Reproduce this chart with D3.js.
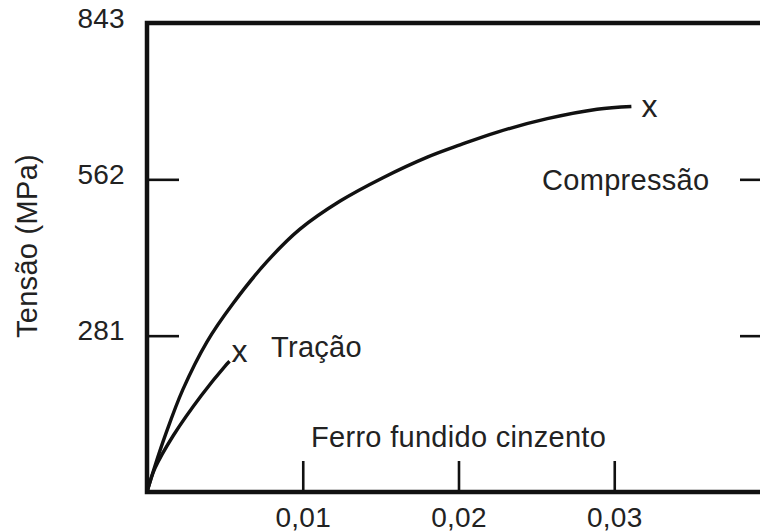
<!DOCTYPE html>
<html>
<head>
<meta charset="utf-8">
<script src="https://cdn.jsdelivr.net/npm/d3@7.9.0/dist/d3.min.js"></script>
<style>
  html, body { margin: 0; padding: 0; background: #fff; }
  svg { display: block; font-family: "Liberation Sans", Arial, Helvetica, sans-serif; }
  .lbl { font-size: 29px; fill: #222; letter-spacing: 0.3px; }
</style>
</head>
<body>
<div id="chart"></div>
<script>
// strain (mm/mm) vs stress (MPa)
const compStrain = [0, 0.0005, 0.0012, 0.0023, 0.00385, 0.0055, 0.0077, 0.0098, 0.0124, 0.01515, 0.018, 0.0201, 0.0225, 0.0257, 0.0289, 0.0311];
const compStress = [0, 46, 104, 184, 270, 338, 414, 472, 523, 565, 602, 624, 647, 671, 688, 693];

const tracStrain = [0, 0.0005, 0.0017, 0.0035, 0.005, 0.0053];
const tracStress = [0, 42, 102, 174, 226, 235];

const xTicks = [0.01, 0.02, 0.03];
const yTicks = [281, 562, 843];

const width = 760;
const height = 532;

const svg = d3.select('#chart')
  .append('svg')
  .attr('width', width)
  .attr('height', height);

const xScale = d3.scaleLinear()
  .domain([0, 0.04])
  .range([147, 770]);

const yScale = d3.scaleLinear()
  .domain([0, 843])
  .range([492, 23]);

// AXES (ticks point inward)

const xAxis = svg.append('g')
  .attr('transform', `translate(0,${yScale(0)})`)
  .call(d3.axisBottom(xScale)
    .tickValues(xTicks)
    .tickSizeInner(-31)
    .tickSizeOuter(0)
    .tickPadding(15)
    .tickFormat((d) => d3.format('.2f')(d).replace('.', ',')));

const yAxis = svg.append('g')
  .attr('transform', `translate(${xScale(0)},0)`)
  .call(d3.axisLeft(yScale)
    .tickValues(yTicks)
    .tickSizeInner(-32)
    .tickSizeOuter(0)
    .tickPadding(22));

const yAxisRight = svg.append('g')
  .attr('transform', `translate(${xScale(0.04)},0)`)
  .call(d3.axisRight(yScale)
    .tickValues([281, 562])
    .tickSizeInner(-30)
    .tickSizeOuter(0)
    .tickFormat(''));

svg.selectAll('.domain').remove();

svg.selectAll('.tick line')
  .attr('stroke', '#111')
  .attr('stroke-width', 2.6);

svg.selectAll('.tick text')
  .attr('class', 'lbl')
  .style('font-size', '28px')
  .style('font-family', '"Liberation Sans", Arial, Helvetica, sans-serif')
  .attr('fill', '#222');

yAxis.selectAll('.tick text').attr('dy', '0.15em');

// FRAME

svg.append('rect')
  .attr('x', xScale(0))
  .attr('y', yScale(843))
  .attr('width', xScale(0.04) - xScale(0))
  .attr('height', yScale(0) - yScale(843))
  .attr('fill', 'none')
  .attr('stroke', '#111')
  .attr('stroke-width', 4.5);

// CURVES

const line = d3.line()
  .x((d) => xScale(d[0]))
  .y((d) => yScale(d[1]))
  .curve(d3.curveCatmullRom.alpha(0.5));

const compression = d3.zip(compStrain, compStress);
const traction = d3.zip(tracStrain, tracStress);

svg.append('path')
  .datum(compression)
  .attr('d', line)
  .attr('fill', 'none')
  .attr('stroke', '#111')
  .attr('stroke-width', 3.4);

svg.append('path')
  .datum(traction)
  .attr('d', line)
  .attr('fill', 'none')
  .attr('stroke', '#111')
  .attr('stroke-width', 3.4);

// fracture markers

const lastC = compression[compression.length - 1];
const lastT = traction[traction.length - 1];

svg.append('text')
  .attr('class', 'lbl')
  .attr('x', xScale(lastC[0]) + 10)
  .attr('y', yScale(lastC[1]) + 11)
  .style('font-size', '32px')
  .text('x');

svg.append('text')
  .attr('class', 'lbl')
  .attr('x', xScale(lastT[0]) + 2)
  .attr('y', yScale(lastT[1]) + 1)
  .style('font-size', '32px')
  .text('x');

// LABELS

svg.append('text')
  .attr('class', 'lbl')
  .attr('x', 542)
  .attr('y', 190)
  .text('Compressão');

svg.append('text')
  .attr('class', 'lbl')
  .attr('x', 271)
  .attr('y', 357)
  .text('Tração');

svg.append('text')
  .attr('class', 'lbl')
  .attr('x', 311)
  .attr('y', 447)
  .text('Ferro fundido cinzento');

svg.append('text')
  .attr('class', 'lbl')
  .attr('text-anchor', 'middle')
  .attr('transform', 'translate(37,246) rotate(-90)')
  .text('Tensão (MPa)');
</script>
</body>
</html>
